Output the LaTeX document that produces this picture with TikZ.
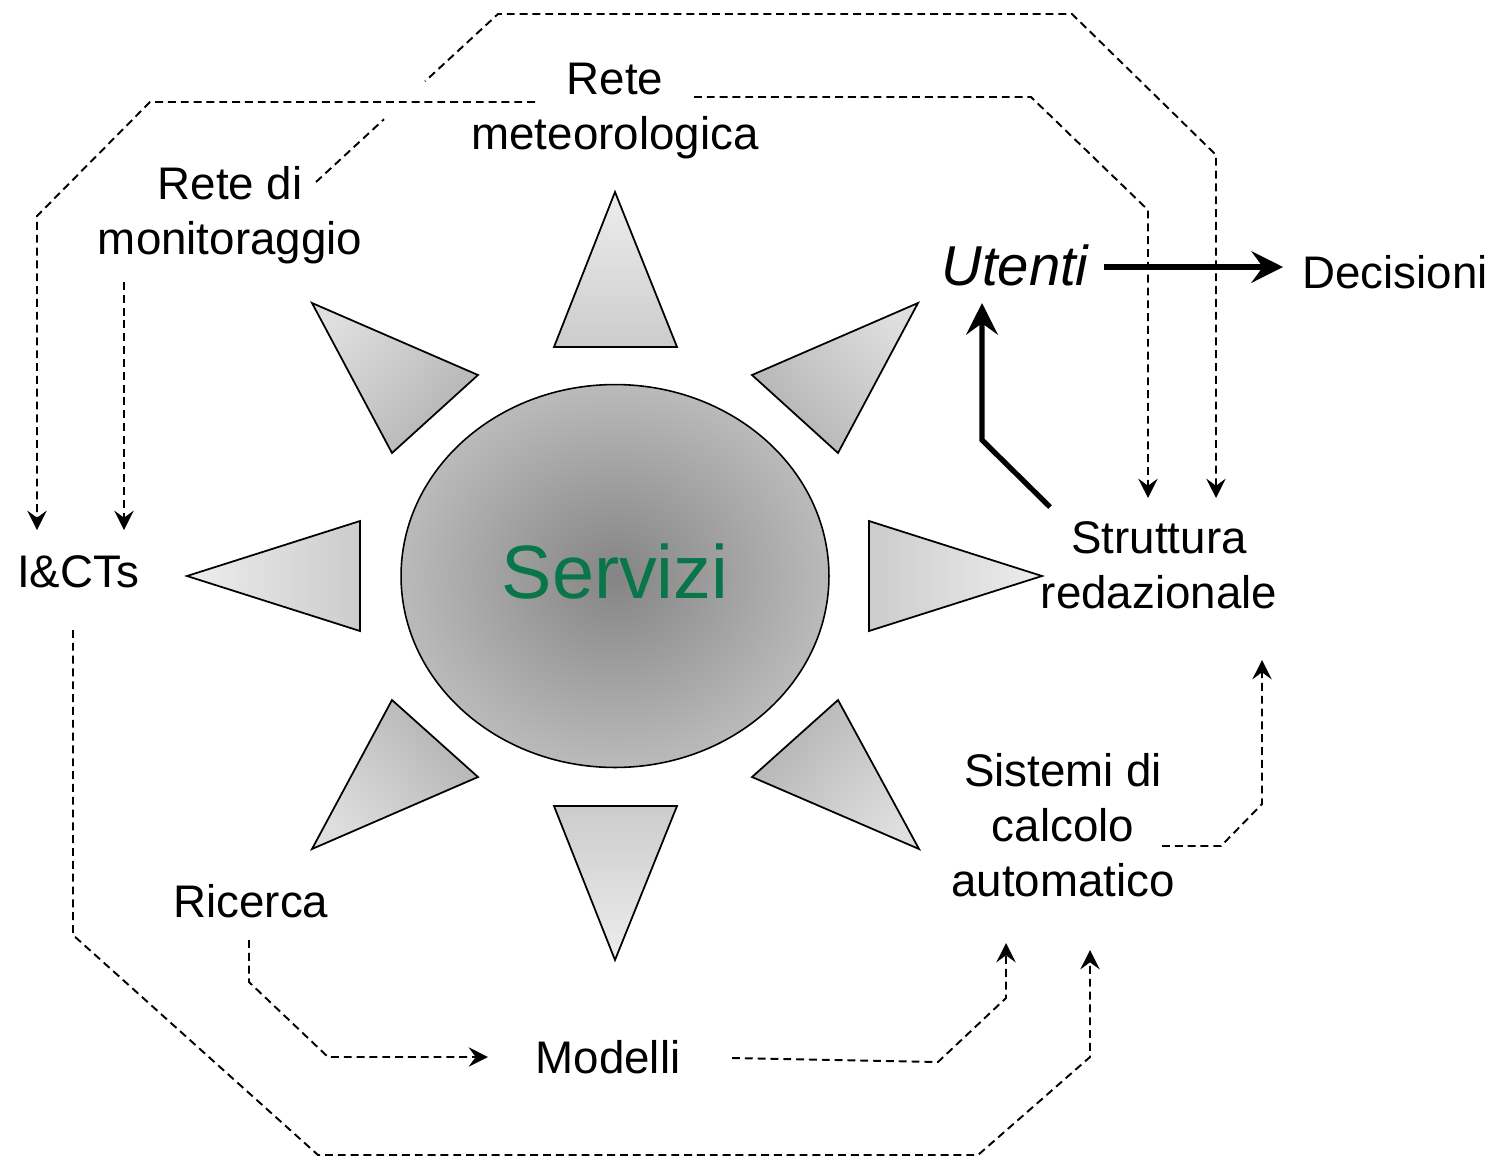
\documentclass[tikz,border=0pt]{standalone}
\usepackage{fontspec}
\setmainfont{Liberation Sans}
\usetikzlibrary{arrows.meta,calc,shapes.geometric}
\definecolor{servgreen}{RGB}{8,117,74}
\tikzset{
  lbl/.style={font=\fontsize{26}{31.5}\selectfont, align=center, inner sep=0pt},
  dasharrow/.style={line width=1.1pt, dash pattern=on 4.5pt off 2.8pt,
    -{Stealth[length=11pt,width=11pt,inset=4pt]}},
  thickarrow/.style={line width=3pt, -{Stealth[length=18pt,width=18pt,inset=6.5pt]}},
  tri/.style={draw=black, line width=1pt, line join=miter},
  axtri/.style={tri, top color=black!7, bottom color=black!20, shading angle=#1},
  diagtri/.style={tri, top color=black!13, bottom color=black!30, shading angle=#1},
  servstyle/.style={ellipse, draw=black, line width=0.9pt, inner sep=0pt,
    minimum width=8.56cm, minimum height=7.66cm,
    inner color=black!48, outer color=black!27,
    font=\fontsize{43}{50}\selectfont, text=servgreen, text depth=5.7pt},
}
\begin{document}
\begin{tikzpicture}[x=0.02cm, y=-0.02cm]
\useasboundingbox (0,0) rectangle (1493,1160);

% rays
\draw[axtri=0] (615,192) -- (677,347) -- (554,347) -- cycle;
\draw[axtri=180] (615,960) -- (677,806) -- (554,806) -- cycle;
\draw[axtri=90] (187,576) -- (360,521) -- (360,631) -- cycle;
\draw[axtri=-90] (1042,576) -- (869,521) -- (869,631) -- cycle;
\draw[diagtri=48] (312,303) -- (478,375) -- (392,453) -- cycle;
\draw[diagtri=-48] (918,303) -- (752,375) -- (838,453) -- cycle;
\draw[diagtri=132] (312,849) -- (478,777) -- (392,700) -- cycle;
\draw[diagtri=-132] (919,849) -- (752,777) -- (838,700) -- cycle;

% centre
\node[servstyle] (serv) at (615,576) {Servizi};

% labels
\node[lbl] (rm) at (615,111) {Rete\\meteorologica};
\node[lbl] (rdm) at (230,215) {Rete di\\monitoraggio};
\node[lbl, anchor=base] (ict) at (78,587) {I\&CTs};
\node[lbl, anchor=base, font=\fontsize{32}{38}\selectfont\itshape] (ut) at (1015,285) {Utenti};
\node[lbl, anchor=base] (dec) at (1395,288) {Decisioni};
\node[lbl] (st) at (1159,565) {Struttura\\redazionale};
\node[lbl] (sc) at (1063,825) {Sistemi di\\calcolo\\automatico};
\node[lbl, anchor=base] (ric) at (251,917) {Ricerca};
\node[lbl, anchor=base] (mod) at (608,1073) {Modelli};

% dashed connectors
\draw[dasharrow] ($(rdm)+(86,-33)$) -- (498,14) -- (1072,14) -- (1216,155) -- ($(st)+(57,-67)$);
\draw[white, line width=4pt] (384,119) -- (425,81.4);
\draw[dasharrow] ($(rm)+(-80,-9)$) -- (150,102) -- (37,216) -- ($(ict.base)+(-41,-57)$);
\draw[dasharrow] ($(rm)+(79,-14)$) -- (1031,97) -- (1148,210) -- ($(st)+(-11,-67)$);
\draw[dasharrow] ($(rdm)+(-106,67)$) -- ($(ict.base)+(46,-57)$);
\draw[dasharrow] ($(ict.base)+(-5,43)$) -- (73,935) -- (318,1155) -- (978,1155) -- (1090,1057) -- ($(sc)+(27,125)$);
\draw[dasharrow] ($(mod.base)+(124,-15)$) -- (938,1062) -- (1006,998) -- ($(sc)+(-57,118)$);
\draw[dasharrow] ($(ric.base)+(-2,23)$) -- (249,982) -- (328,1057) -- ($(mod.base)+(-120,-16)$);
\draw[dasharrow] ($(sc)+(99,21)$) -- (1221,846) -- (1262,804) -- ($(st)+(103,95)$);

% solid connectors
\draw[thickarrow] ($(st)+(-109,-58)$) -- (982,440) -- ($(ut.base)+(-33,18)$);
\draw[thickarrow] ($(ut.base)+(89,-18)$) -- ($(dec.base)+(-112,-21)$);
\end{tikzpicture}
\end{document}
